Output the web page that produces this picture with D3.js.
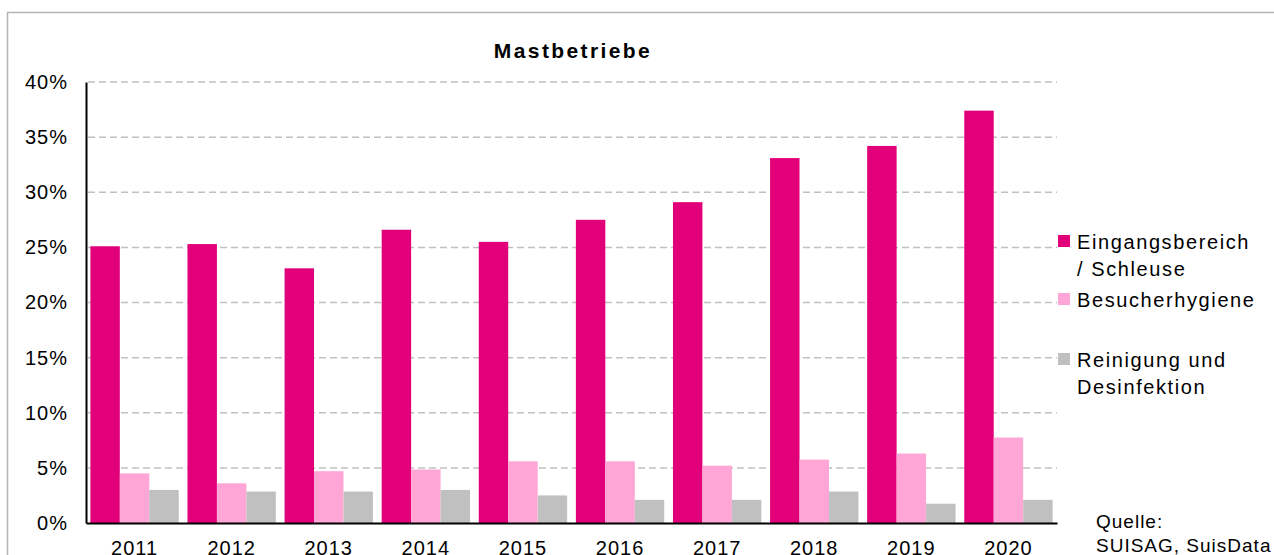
<!DOCTYPE html>
<meta charset="utf-8">
<title>Mastbetriebe</title>

<style>
    body { margin: 0; background: #fff; }
    svg { font-family: "Liberation Sans", Arial, sans-serif; }
    .grid line { stroke: #c0c0c0; stroke-width: 1.5px; stroke-dasharray: 7,4; }
    .axis text { font-size: 20px; fill: #000; letter-spacing: 1px; }
    .axis path { stroke: #000; stroke-width: 2px; }
    .legend text { font-size: 20px; letter-spacing: 1.6px; }
</style>

<body>
<script src="https://d3js.org/d3.v7.min.js"></script>

<script>
// data
var years = ["2011", "2012", "2013", "2014", "2015", "2016", "2017", "2018", "2019", "2020"];
var eingang = [25.1, 25.3, 23.1, 26.6, 25.5, 27.5, 29.1, 33.1, 34.2, 37.4];
var besucher = [4.5, 3.6, 4.7, 4.85, 5.6, 5.6, 5.2, 5.75, 6.3, 7.75];
var reinigung = [3.0, 2.85, 2.85, 3.0, 2.5, 2.1, 2.1, 2.85, 1.75, 2.1];
var seriesNames = ["Eingangsbereich / Schleuse", "Besucherhygiene", "Reinigung und Desinfektion"];
var legendLines = [["Eingangsbereich", "/ Schleuse"], ["Besucherhygiene"], ["Reinigung und", "Desinfektion"]];
var colors = ["#e2007a", "#ffa6d6", "#c0c0c0"];
var yTicks = [0, 5, 10, 15, 20, 25, 30, 35, 40];

var W = 1274, H = 555;
var plot = {left: 86, right: 1057, top: 82, bottom: 523};

var svg = d3.select("body").append("svg")
    .attr("width", W)
    .attr("height", H);

// outer frame
svg.append("rect")
    .attr("x", 7.5).attr("y", 12.5)
    .attr("width", W + 20).attr("height", H + 20)
    .attr("fill", "none")
    .attr("stroke", "#b4b4b4")
    .attr("stroke-width", 1.5);

var x = d3.scaleBand()
    .domain(years)
    .range([plot.left, plot.right])
    .paddingInner(0.09)
    .paddingOuter(0.045);

var xs = d3.scaleBand()
    .domain(d3.range(seriesNames.length))
    .range([0, x.bandwidth()]);

var y = d3.scaleLinear()
    .domain([0, 40])
    .range([plot.bottom, plot.top]);

// gridlines
svg.append("g")
    .attr("class", "grid")
    .selectAll("line")
    .data(yTicks.filter(function(d) { return d > 0; }))
    .enter().append("line")
    .attr("x1", plot.left + 2)
    .attr("x2", plot.right)
    .attr("y1", function(d) { return y(d); })
    .attr("y2", function(d) { return y(d); });

// bars
var series = [eingang, besucher, reinigung];
series.forEach(function(vals, si) {
    svg.append("g")
        .selectAll("rect")
        .data(vals)
        .enter().append("rect")
        .attr("x", function(d, i) { return x(years[i]) + xs(si); })
        .attr("width", xs.bandwidth())
        .attr("y", function(d) { return y(d); })
        .attr("height", function(d) { return y(0) - y(d); })
        .attr("fill", colors[si]);
});

// y axis
svg.append("g")
    .attr("class", "axis")
    .attr("transform", "translate(" + plot.left + ",0)")
    .call(d3.axisLeft(y)
        .tickValues(yTicks)
        .tickFormat(function(d) { return d + "%"; })
        .tickSize(0)
        .tickPadding(18));

// x axis
svg.append("g")
    .attr("class", "axis")
    .attr("transform", "translate(0," + plot.bottom + ")")
    .call(d3.axisBottom(x).tickSize(0).tickPadding(18).tickSizeOuter(0));

// title
svg.append("text")
    .attr("x", 573)
    .attr("y", 58)
    .attr("text-anchor", "middle")
    .style("font-size", "21px")
    .style("font-weight", "bold")
    .style("letter-spacing", "2.4px")
    .text("Mastbetriebe");

// legend
var legendY = [235, 293, 353];
var leg = svg.append("g").attr("class", "legend");
legendLines.forEach(function(lines, i) {
    leg.append("rect")
        .attr("x", 1058).attr("y", legendY[i])
        .attr("width", 12).attr("height", 12)
        .attr("fill", colors[i]);
    var t = leg.append("text")
        .attr("x", 1077)
        .attr("y", legendY[i] + 14);
    lines.forEach(function(l, j) {
        t.append("tspan")
            .attr("x", 1077)
            .attr("dy", j === 0 ? 0 : 26.5)
            .text(l);
    });
});

// source
var src = svg.append("text")
    .style("font-size", "19px")
    .style("letter-spacing", "1px");
src.append("tspan").attr("x", 1096).attr("y", 528).text("Quelle:");
src.append("tspan").attr("x", 1096).attr("y", 552).text("SUISAG, SuisData");
</script>
</body>
